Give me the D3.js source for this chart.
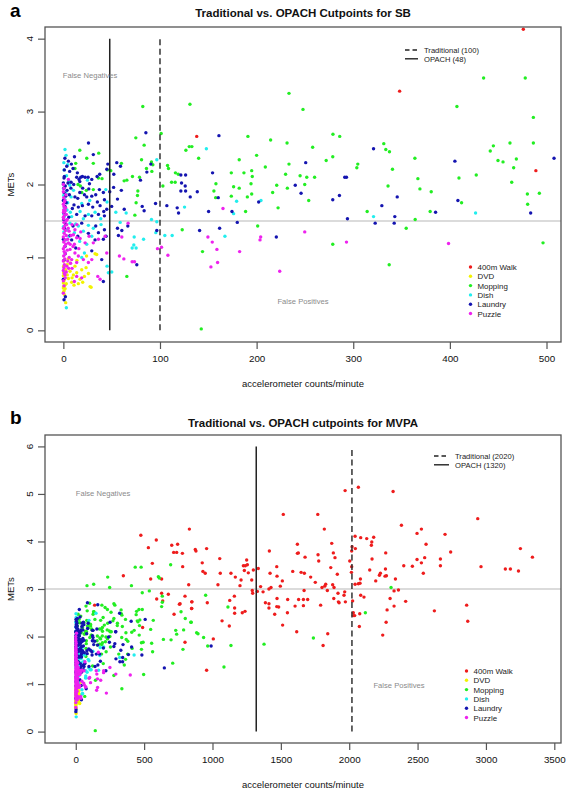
<!DOCTYPE html>
<html><head><meta charset="utf-8">
<script src="https://cdn.jsdelivr.net/npm/d3@7"></script>
<style>html,body{margin:0;padding:0;background:#fff;}svg{display:block;font-family:"Liberation Sans",Arial,Helvetica,sans-serif;}</style>
</head><body>
<script>
// ---------- data: [accelerometer counts/minute, METs] ----------
const activities = ["400m Walk","DVD","Mopping","Dish","Laundry","Puzzle"];
const walk = [[138,2.66],[348,3.28],[489,2.19],[476,4.13],
[589,4.03],[531,3.87],[702,3.92],[745,3.94],[716,3.77],[738,3.77],[780,3.75],[831,4.26],[874,3.83],[879,3.80],[560,3.54],[782,3.47],[548,3.21],[628,3.21],[826,3.09],[677,2.89],[628,2.91],[592,2.79],[636,2.75],[763,2.69],[758,2.68],[848,2.73],[848,2.59],[719,2.47],[799,1.88],[799,2.85],
[957,3.85],[925,3.55],[930,3.37],[947,3.33],[1053,3.64],[1057,3.33],[1135,3.33],[1167,3.25],[1040,3.09],[1201,3.07],[1209,3.19],[1226,3.49],[1240,3.49],[1250,3.61],[1255,3.51],[1233,3.39],[1262,3.34],[1287,3.19],[1299,3.40],[1335,3.43],[1291,2.97],[1294,2.91],[1328,2.95],[1352,3.05],[1370,2.94],[1416,3.80],[1421,3.33],[1428,3.03],[1413,3.00],[1470,3.47],[1472,3.27],[1496,3.06],[1511,3.17],[1518,4.57],[1548,2.50],[1513,2.24],[1455,2.47],[1413,2.69],[1413,2.60],[1387,2.71],[1472,2.80],[1484,2.62],[1587,3.37],[1621,3.94],[1628,3.76],[1621,3.75],[1677,3.67],[1648,3.35],[1672,3.33],[1718,3.25],[1670,2.97],[1665,2.78],[1696,2.78],[1630,2.78],[1604,2.64],[1665,2.65],[1616,2.10],[1770,4.57],[1818,4.26],[1772,3.72],[1777,3.59],[1884,3.76],[1896,3.66],[1872,3.96],[1865,3.45],[1752,3.14],[1801,3.03],[1821,3.06],[1828,3.10],[1840,2.97],[1879,3.09],[1889,3.03],[1913,3.31],[1791,2.66],[1843,2.06],[1809,1.81],[1887,2.80],[1921,2.73],[1962,2.87],[1967,2.94],[1972,2.73],[1970,5.07],[2067,5.14],[2021,3.89],[2018,3.80],[2004,3.59],[2018,3.47],[2016,3.35],[2043,4.11],[2045,3.85],[2084,4.08],[2128,4.06],[2179,4.09],[2165,3.99],[2162,3.92],[2167,3.63],[2150,3.40],[2082,3.21],[2043,3.10],[2067,3.11],[2079,3.12],[2194,3.17],[2221,3.29],[2228,3.33],[2262,3.27],[2267,3.76],[2265,3.42],[2272,3.28],[2321,5.05],[2382,4.34],[2399,3.49],[2338,3.21],[2360,2.98],[2328,2.96],[2413,2.74],[2299,2.80],[2328,2.64],[2277,2.56],[2270,2.30],[2245,2.03],[2084,2.87],[2108,2.83],[2025,2.75],[2030,2.50],[2040,2.44],[2030,2.44],[2077,2.48],[2074,2.21],[1926,2.71],[1918,2.91],[1550,2.78],[1470,2.63],[1126,2.76],[1160,2.85],[1162,2.60],[1162,2.49],[1218,2.50],[1238,2.53],[1123,2.22],[1070,2.33],[1006,1.95],[957,1.29],[850,2.73],[847,2.59],[962,2.71],
[2496,4.17],[2528,4.26],[2701,4.15],[2562,3.94],[2940,4.48],[3252,3.85],[3340,3.67],[2742,3.78],[2462,3.48],[2496,3.62],[2552,3.66],[2528,3.55],[2542,3.33],[2667,3.63],[2667,3.49],[2964,3.47],[3142,3.42],[3179,3.42],[3238,3.38],[2623,2.54],[2859,2.66],[2867,2.32]];
const dvd = [[0.3,0.88],[0.3,0.79],[1,0.70],[0.3,0.60],[0.7,0.54],[1,0.49],[2.4,0.83],[3.8,0.90],[6.9,0.81],[10.4,0.76],[13.8,0.79],[17.3,0.70],[21.8,0.74],[23.5,0.86],[32.8,1.05],[34.5,1.04],[27.6,0.60],[28.7,0.59],[15.5,0.64],[8.6,0.66],[5.2,0.71],[2.4,0.38],[12,0.88],[19,0.83],[0,0.65],[0,0.75],[0.5,0.95],[0,0.58],[1.5,0.62],[4,0.76],[7,0.92],[9,0.72],[11,0.62],[24,1.02],[5,0.98],[14,0.96],[20,0.66],[26,0.78],[0.6,0.68],[1.8,0.57],[0,0.52],[3,0.64]];
const mopping = [[131,3.10],[233.5,3.25],[248,3.03],[133,2.52],[140,2.36],[191,2.66],[214.5,2.61],[231.5,2.57],[258,2.51],[279,2.69],[286,2.66],[331.6,2.56],[333.7,2.48],[337.5,2.45],[200,2.40],[182,2.34],[233.5,2.28],[272,2.33],[278.8,2.38],[304.7,2.28],[303.7,2.23],[340.6,2.21],[173.8,2.16],[186.9,2.16],[194.9,2.19],[195.5,2.11],[209,2.24],[230,2.14],[245,2.12],[251.9,2.10],[260,2.10],[157.9,2.01],[155.8,1.91],[176.2,1.97],[182,1.95],[194.2,2.01],[220.8,1.99],[231.8,1.95],[249.8,2.00],[336,1.98],[157.6,1.82],[173.8,1.84],[190.4,1.83],[194.9,1.87],[216.6,1.89],[253.9,1.78],[188.6,1.63],[222.2,1.68],[314.4,1.63],[354.8,1.40],[201.1,1.43],[278.8,1.18],[144,1.08],[337.2,0.90],[142.7,0.02],
[434.9,3.46],[478,3.46],[407.3,3.07],[486.4,2.92],[445,2.53],[441.8,2.46],[462.2,2.57],[486.4,2.57],[363.8,2.36],[449.8,2.33],[455,2.31],[468.8,2.35],[466,2.23],[366.9,2.08],[409.4,2.09],[427.3,2.13],[464,2.03],[369,1.94],[380.7,1.90],[480.2,1.87],[492.6,1.88],[412.1,1.75],[480.5,1.73],[379.6,1.63],[364.1,1.52],[496.4,1.20],
[82.2,3.07],[75,2.64],[101.2,2.70],[83.6,2.54],[130.3,2.52],[126.8,2.47],[80.9,2.34],[91.2,2.31],[92.6,2.27],[86,2.22],[91.6,2.18],[107.8,2.26],[108.8,2.22],[78.8,2.10],[49.1,2.19],[60.1,2.29],[71.5,2.11],[65.7,2.06],[62.9,2.05],[77.1,1.91],[76.7,1.85],[75.3,1.75],[74,1.58],[103,1.98],[116,2.16],[118.9,2.14],[115.7,2.03],[112,2.03],[123,1.38],[65.7,0.74],
[17,2.47],[12.8,2.29],[12,2.22],[15.2,2.0],[17.6,1.98],[24.2,2.36],[31,2.29],[36.6,2.43],[45.6,2.20],[40,2.08],[36.3,2.09],[23.8,1.92],[19,1.89],[31,1.93],
[694,3.51],[604,3.26],[611,3.23],[538,2.96],[633,2.85],[633,2.72],[628,2.63],[770,2.52],[801,2.38],[841,2.30],[789,2.14],[731,2.13],[738,2.05],[697,1.93],[641,1.94],[567,2.34],[548,2.15],[555,1.86],[562,1.68],[784,1.73],[709,1.44],[884,2.08],[894,2.06],[950,2.87],[1113,2.62],[845,2.30],[935,1.98],[965,1.80],[1135,1.81],[1084,1.36],[1738,1.97],[1377,1.84],[2306,3.03],[2118,2.50]];
const dish = [[148,2.49],[204.5,1.78],[179.3,1.77],[176.2,1.60],[321,1.56],[167.2,1.29],[426.6,1.61],
[96.7,2.34],[125.4,1.69],[96.7,1.49],[95.7,1.34],[105,1.30],[112.6,1.30],[91.2,1.52],[83,1.25],[54.3,1.62],[58.8,1.48],[65,1.61],[73.3,1.28],[72.9,1.17],[71.2,1.13],[75.3,1.13],[50.1,0.80],
[1.7,2.48],[4.5,2.27],[6.6,1.99],[24.9,2.06],[1.7,1.79],[4.5,1.75],[8,1.83],[19,1.74],[27.3,1.78],[43.9,1.93],[45.2,1.76],[32.8,1.62],[17.3,1.63],[3.8,1.65],[1,1.56],[8.6,1.56],[25.9,1.59],[20.7,1.53],[38.7,1.53],[1.7,1.5],[6.9,1.47],[12.8,1.46],[15.5,1.43],[25.9,1.44],[31,1.40],[39,1.45],[20.7,1.36],[11.4,1.34],[5.9,1.29],[29.4,1.29],[16.9,1.22],[24.2,1.18],[2.4,1.24],[21.8,1.06],[19,1.0],[45.2,0.88],[46.6,0.79],[3.1,0.31],[0.5,2.3],[0,2.0],[0.3,1.85],[1,1.68],[0,1.42],[0.5,1.35],
[2.8,2.40],[0.8,2.20],[3.3,2.12],[0.2,1.95],[5.5,2.05],[2.6,1.88],[7.2,1.62],[10.5,1.92],[0.4,1.60],[4.2,1.38]];
const laundry = [[161,2.67],[321,2.49],[250.8,2.30],[291.2,2.10],[293,2.10],[154.4,2.16],[240,1.99],[138.6,1.90],[131.3,1.83],[160.3,1.82],[202.1,1.76],[246,1.88],[278.8,1.79],[285.7,1.85],[345.5,1.83],[150.3,1.63],[174.5,1.63],[329.6,1.71],[294,1.53],[343,1.56],[322.7,1.47],[342.4,1.47],[141,1.37],[161.7,1.40],[180,1.48],[220.4,1.28],
[405.2,2.32],[507.8,2.36],[408.3,1.78],[385.2,1.62],[483.6,1.61],
[85.4,2.71],[46,2.28],[55.3,2.30],[59.1,2.25],[52.2,2.14],[79.8,2.06],[86.4,2.17],[81.6,1.70],[83.6,1.64],[95.4,1.74],[90.5,2.28],[122.3,2.02],[126.1,1.98],[121.6,2.13],[126.5,2.13],[126.5,1.91],[121.6,1.91],[117.8,1.68],[119.2,1.61],[107.1,1.71],[96.7,1.37],[56,1.40],[60.5,1.37],[57,1.30],[66.7,1.43],[76,0.90],[52,1.96],[48,1.90],[60,1.92],[56,1.80],[63,1.66],[50,1.70],
[26,2.57],[5.2,2.32],[8.3,2.28],[10,2.22],[0.7,2.09],[1,2.11],[14.5,2.16],[13.8,2.10],[18,2.10],[19.7,2.11],[22.5,2.10],[16.2,2.07],[17,2.04],[8,2.03],[10.7,2.0],[2,1.98],[3.8,1.92],[20,1.95],[26.3,1.94],[27,2.01],[31,2.41],[45,2.21],[34.9,2.11],[37.6,2.14],[29.4,2.07],[25.6,2.10],
[0.7,1.89],[2.4,1.84],[6.2,1.86],[12,1.83],[14.9,1.81],[17,1.89],[21.8,1.86],[24.2,1.83],[29.4,1.84],[33.5,1.86],[37.3,1.93],[41.4,1.89],[42.5,1.79],[35.2,1.76],[38,1.71],[30.4,1.69],[25.9,1.73],[19.7,1.71],[15.5,1.69],[9.3,1.67],[1.7,1.70],[0.7,1.61],[13.8,1.59],[22.5,1.57],[29.4,1.57],[36.3,1.59],[41.8,1.63],[44.9,1.66],[42.5,1.57],[2.4,1.46],[10,1.43],[19,1.47],[33.5,1.43],[42.5,1.38],[36.3,1.34],[25.9,1.33],[14.9,1.29],[8.6,1.24],[32.8,1.24],[41.4,1.25],[44.2,1.29],[1.7,1.15],[12.8,1.13],[29.4,1.09],[39.7,0.97],[41.4,0.67],[0.7,0.42],[2.1,0.46],[0,0.70],
[0,2.02],[0.5,1.95],[1,2.2],[0,1.78],[0.3,1.52],[1,1.40],[0,1.25],[2,1.05],[0.5,0.96],
[3.5,2.25],[6.5,2.18],[1.6,2.36],[11.5,2.38],[4.8,2.02],[7.8,1.95],[3,1.75],[5.6,1.55],[11,1.72],[7,1.30],
[648,1.34],[990,1.80]];
const puzzle = [[165.2,1.67],[149.6,1.28],[154.1,1.21],[204.2,1.28],[203.5,1.24],[249.8,1.35],[293,1.21],[158.9,1.11],[182.4,1.08],[159.6,0.93],[152.7,0.87],[223.9,0.81],[398.6,1.19],
[97.4,1.12],[101.6,1.14],[108.2,1.03],[67,1.47],[60.5,1.28],[58,1.02],[62.6,0.98],[71.2,0.94],[73.6,0.94],
[5.2,2.07],[1,1.76],[2.4,1.68],[0.3,1.65],[3.1,1.59],[0.3,1.53],[5.9,1.36],[10.4,1.31],[13.8,1.27],[5.2,1.20],[11.4,1.18],[17.3,1.26],[22.5,1.20],[26.6,1.29],[31,1.20],[36.3,1.25],[6.9,1.11],[12,1.06],[15.5,1.02],[20.7,0.97],[8.6,0.97],[4.5,0.95],[13.8,0.93],[25.9,0.93],[29.4,0.97],[44.9,1.06],[43.2,1.29],[13.8,0.74],[19,0.72],[35.6,0.74],[38,0.70],[11.4,0.67],[1.7,0.76],[0.7,0.61],[0,0.51],
[0,0.82],[0.5,0.86],[1,0.90],[0,0.95],[1.5,0.98],[0.3,1.02],[2,1.05],[0.8,1.08],[0,1.12],[1.2,1.15],[2.5,1.18],[0.4,1.21],[1.8,1.24],[0,1.28],[3,1.30],[0.9,1.33],[2.2,1.37],[0.1,1.40],[1.4,1.43],[3.5,1.45],[0.6,1.48],[2.8,1.50],[0,1.55],[1.1,1.58],[0.2,1.62],[2,1.64],[0.7,1.70],[0,1.73],[1.6,1.78],[0.4,1.82],[2.6,1.86],[0,1.90],[4,1.10],[4.5,1.25],[5,1.40],[6,1.00],[7,1.18],[3.5,0.88],[4,1.52],[8,1.30],[9,1.45],[10,1.15],[7.5,0.92],[12,1.38],[1,0.78],[2,0.72],[0,0.68],[3,0.80],[5.5,0.85],[0.5,1.95],[0,2.0],[9,0.85],[16,1.12],[14,1.45],[18,1.35]];

const seriesData = [walk, dvd, mopping, dish, laundry, puzzle];
const drawOrder = [0, 1, 2, 3, 4, 5];
const xTicksSB = [0,100,200,300,400,500];
const yTicksSB = [0,1,2,3,4];
const xTicksMVPA = [0,500,1000,1500,2000,2500,3000,3500];
const yTicksMVPA = [0,1,2,3,4,5,6];
const cutSB = {trad:100, opach:48, met:1.5};
const cutMVPA = {trad:2020, opach:1320, met:3};

// ---------- styles ----------
const colors = ["#ee1c1c","#f2f200","#22ee22","#22eeee","#1414b0","#ee22ee"];

const W = 567, H = 789;
const svg = d3.select("body").append("svg").attr("width", W).attr("height", H);
svg.append("rect").attr("width", W).attr("height", H).attr("fill", "#fff");

function panel(cfg) {
  const x = d3.scaleLinear().domain(cfg.xDom).range([45, 561]);
  const y = d3.scaleLinear().domain(cfg.yDom).range([cfg.bottom, cfg.top]);
  const g = svg.append("g");
  const clipId = "clip" + cfg.letter;
  svg.append("clipPath").attr("id", clipId).append("rect")
    .attr("x", 45).attr("y", cfg.top).attr("width", 516).attr("height", cfg.bottom - cfg.top);

  // letter + title
  g.append("text").attr("x", 10).attr("y", cfg.letterY).attr("font-size", 19).attr("font-weight", "bold").text(cfg.letter);
  g.append("text").attr("x", 303).attr("y", cfg.titleY).attr("text-anchor", "middle")
    .attr("font-size", 11.5).attr("font-weight", "bold").attr("fill", "#111").text(cfg.title);

  const pg = g.append("g").attr("clip-path", `url(#${clipId})`);
  // horizontal threshold
  pg.append("line").attr("x1", 45).attr("x2", 561).attr("y1", y(cfg.cut.met)).attr("y2", y(cfg.cut.met))
    .attr("stroke", "#cfcfcf").attr("stroke-width", 1.6);

  // points
  drawOrder.forEach(i => {
    pg.append("g").selectAll("circle").data(seriesData[i].filter(d => d[0] <= cfg.xDom[1]))
      .join("circle").attr("cx", d => x(d[0])).attr("cy", d => y(d[1])).attr("r", 1.7)
      .attr("fill", colors[i]);
  });

  // cutpoint lines
  pg.append("line").attr("x1", x(cfg.cut.opach)).attr("x2", x(cfg.cut.opach))
    .attr("y1", y(0)).attr("y2", y(cfg.yTicks[cfg.yTicks.length - 1]))
    .attr("stroke", "#222").attr("stroke-width", 1.5);
  pg.append("line").attr("x1", x(cfg.cut.trad)).attr("x2", x(cfg.cut.trad))
    .attr("y1", y(0)).attr("y2", y(cfg.yTicks[cfg.yTicks.length - 1]))
    .attr("stroke", "#333").attr("stroke-width", 1.5).attr("stroke-dasharray", "6,3.5");

  // frame
  g.append("rect").attr("x", 45).attr("y", cfg.top).attr("width", 516).attr("height", cfg.bottom - cfg.top)
    .attr("fill", "none").attr("stroke", "#555").attr("stroke-width", 1.3);

  // axes
  const xa = g.append("g").attr("transform", `translate(0,${cfg.bottom})`)
    .call(d3.axisBottom(x).tickValues(cfg.xTicks).tickSize(7).tickPadding(6).tickFormat(d3.format("d")));
  xa.attr("font-family", null);
  xa.select(".domain").remove();
  xa.selectAll("line").attr("stroke", "#555").attr("stroke-width", 1.2);
  xa.selectAll("text").attr("font-size", 9.8).attr("fill", "#111");
  const ya = g.append("g").attr("transform", `translate(45,0)`)
    .call(d3.axisLeft(y).tickValues(cfg.yTicks).tickSize(7).tickFormat(d3.format("d")));
  ya.select(".domain").remove();
  ya.selectAll("line").attr("stroke", "#555").attr("stroke-width", 1.2);
  ya.selectAll("text").remove();
  g.selectAll(".ytl").data(cfg.yTicks).join("text")
    .attr("transform", d => `translate(32.5,${y(d)}) rotate(-90)`)
    .attr("text-anchor", "middle").attr("font-size", 9.8).attr("fill", "#111").text(d => d);

  // axis titles
  g.append("text").attr("x", 303).attr("y", cfg.bottom + 45).attr("text-anchor", "middle")
    .attr("font-size", 9.5).attr("fill", "#111").text("accelerometer counts/minute");
  g.append("text").attr("transform", `translate(13.5,${(cfg.top + cfg.bottom) / 2}) rotate(-90)`)
    .attr("text-anchor", "middle").attr("font-size", 9.5).attr("fill", "#111").text("METs");

  // region labels
  g.append("text").attr("x", cfg.fn[0]).attr("y", cfg.fn[1]).attr("text-anchor", "middle")
    .attr("font-size", 7.6).attr("fill", "#8a8a8a").text("False Negatives");
  g.append("text").attr("x", cfg.fp[0]).attr("y", cfg.fp[1]).attr("text-anchor", "middle")
    .attr("font-size", 7.6).attr("fill", "#8a8a8a").text("False Positives");

  // line legend
  const ll = cfg.lineLeg;
  const lineLabels = [`Traditional (${cfg.cut.trad})`, `OPACH (${cfg.cut.opach})`];
  lineLabels.forEach((t, i) => {
    const yy = ll.y + i * 8.8;
    g.append("line").attr("x1", ll.x).attr("x2", ll.x + ll.len).attr("y1", yy).attr("y2", yy)
      .attr("stroke", "#222").attr("stroke-width", 1.4).attr("stroke-dasharray", i === 0 ? "4.5,3" : null);
    g.append("text").attr("x", ll.x + ll.len + 6).attr("y", yy + 2.8).attr("font-size", 7.6).attr("fill", "#222").text(t);
  });

  // point legend
  const pl = cfg.ptLeg;
  activities.forEach((a, i) => {
    const yy = pl.y + i * 9.3;
    g.append("circle").attr("cx", pl.x).attr("cy", yy).attr("r", 1.7).attr("fill", colors[i]);
    g.append("text").attr("x", pl.x + 7).attr("y", yy + 3).attr("font-size", 7.9).attr("fill", "#222").text(a);
  });
}

panel({letter:"a", letterY:17, title:"Traditional vs. OPACH Cutpoints for SB", titleY:17,
  xDom:[-19,515], yDom:[-0.16,4.16], top:27, bottom:342, xTicks:xTicksSB, yTicks:yTicksSB, cut:cutSB,
  fn:[90,78], fp:[303,304], lineLeg:{x:405, y:50, len:13}, ptLeg:{x:470.5, y:267}});
panel({letter:"b", letterY:424, title:"Traditional vs. OPACH cutpoints for MVPA", titleY:427,
  xDom:[-225,3549], yDom:[-0.24,6.24], top:435, bottom:743, xTicks:xTicksMVPA, yTicks:yTicksMVPA, cut:cutMVPA,
  fn:[103,496], fp:[399,688], lineLeg:{x:434, y:456, len:15}, ptLeg:{x:466.5, y:671}});
</script>
</body></html>
